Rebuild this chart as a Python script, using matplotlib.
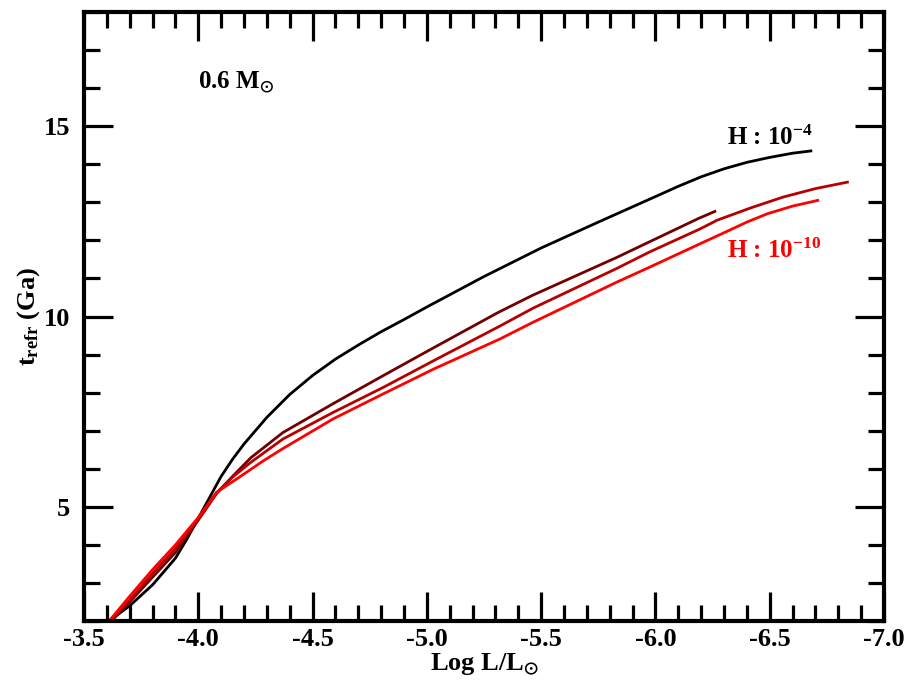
import matplotlib
matplotlib.use("Agg")
import matplotlib.pyplot as plt
from matplotlib.ticker import MultipleLocator, FormatStrFormatter

plt.rcParams.update({
    "font.family": "Liberation Serif",
    "font.weight": "bold",
    "axes.labelweight": "bold",
    "mathtext.fontset": "custom",
    "mathtext.rm": "Liberation Serif:bold",
    "mathtext.it": "Liberation Serif:bold",
    "mathtext.bf": "Liberation Serif:bold",
    "mathtext.default": "regular",
    "axes.unicode_minus": False,
})

# H : 1e-4 (black)
black_x = [-3.61, -3.70, -3.80, -3.90, -3.95, -4.00, -4.05, -4.10, -4.15, -4.20, -4.30, -4.40,
           -4.50, -4.60, -4.70, -4.80, -4.90, -5.00, -5.25, -5.50, -5.75, -6.00, -6.10,
           -6.20, -6.30, -6.40, -6.50, -6.60, -6.68]
black_y = [2.0, 2.4, 2.95, 3.65, 4.15, 4.7, 5.25, 5.8, 6.25, 6.65, 7.35, 7.95,
           8.45, 8.88, 9.25, 9.6, 9.92, 10.25, 11.05, 11.8, 12.48, 13.15, 13.42,
           13.67, 13.88, 14.05, 14.18, 14.29, 14.35]

# intermediate H (dark red)
dark_x = [-3.62, -3.70, -3.80, -3.90, -4.00, -4.08, -4.15, -4.23, -4.37, -4.59, -4.81, -5.03,
          -5.31, -5.46, -5.83, -6.19, -6.26]
dark_y = [2.0, 2.5, 3.15, 3.8, 4.65, 5.35, 5.8, 6.29, 6.95, 7.71, 8.45, 9.18,
          10.1, 10.55, 11.55, 12.58, 12.76]

# intermediate H (medium red)
mid_x = [-3.615, -3.70, -3.80, -3.90, -4.00, -4.08, -4.15, -4.23, -4.37, -4.59, -4.81, -5.03,
         -5.32, -5.465, -5.83, -5.976, -6.195, -6.27, -6.42, -6.56, -6.70, -6.84]
mid_y = [2.0, 2.55, 3.25, 3.9, 4.68, 5.37, 5.78, 6.17, 6.78, 7.48, 8.14, 8.84,
         9.75, 10.22, 11.26, 11.7, 12.3, 12.53, 12.86, 13.14, 13.36, 13.53]

# H : 1e-10 (red)
red_x = [-3.61, -3.70, -3.80, -3.90, -4.00, -4.08, -4.18, -4.28, -4.37, -4.59, -4.81, -5.03,
         -5.32, -5.465, -5.83, -5.976, -6.195, -6.30, -6.40, -6.49, -6.60, -6.71]
red_y = [2.0, 2.65, 3.35, 4.0, 4.72, 5.38, 5.78, 6.19, 6.53, 7.31, 7.97, 8.62,
         9.41, 9.85, 10.9, 11.3, 11.91, 12.2, 12.48, 12.7, 12.9, 13.05]

fig = plt.figure(figsize=(9.11, 6.85), dpi=100)
ax = fig.add_axes([84 / 911, 64 / 685, 800 / 911, 609 / 685])

ax.plot(black_x, black_y, color="black", lw=2.0)
ax.plot(dark_x, dark_y, color="#700000", lw=2.0)
ax.plot(mid_x, mid_y, color="#b50000", lw=2.0)
ax.plot(red_x, red_y, color="#ff0000", lw=2.0)

ax.set_xlim(-3.5, -7.0)
ax.set_ylim(2, 18)

ax.xaxis.set_major_locator(MultipleLocator(0.5))
ax.xaxis.set_minor_locator(MultipleLocator(0.1))
ax.yaxis.set_major_locator(MultipleLocator(5))
ax.yaxis.set_minor_locator(MultipleLocator(1))
ax.xaxis.set_major_formatter(FormatStrFormatter("%.1f"))
ax.yaxis.set_major_formatter(FormatStrFormatter("%d"))

ax.tick_params(which="both", direction="in", top=True, right=True, width=2.3,
               labelsize=19)
ax.tick_params(which="major", length=21)
ax.tick_params(which="minor", length=11.5)
ax.tick_params(axis="x", pad=5)
ax.tick_params(axis="y", pad=10)
for s in ax.spines.values():
    s.set_linewidth(3)

ax.set_xlabel(r"Log L/L$_{\odot}$", fontsize=19, fontweight="bold")
ax.set_ylabel(r"t$_{refr}$ (Ga)", fontsize=19, fontweight="bold")
ax.xaxis.set_label_coords(0.5, -0.05)
ax.yaxis.set_label_coords(-0.052, 0.5)

ax.text(-4.0, 16.0, r"0.6 M$_{\odot}$", fontsize=18, fontweight="bold")
ax.text(-6.313, 14.5, r"H : 10$^{-4}$", fontsize=18, fontweight="bold", color="black")
ax.text(-6.313, 11.53, r"H : 10$^{-10}$", fontsize=18, fontweight="bold", color="#ff0000")

fig.savefig("out.png", dpi=100)
